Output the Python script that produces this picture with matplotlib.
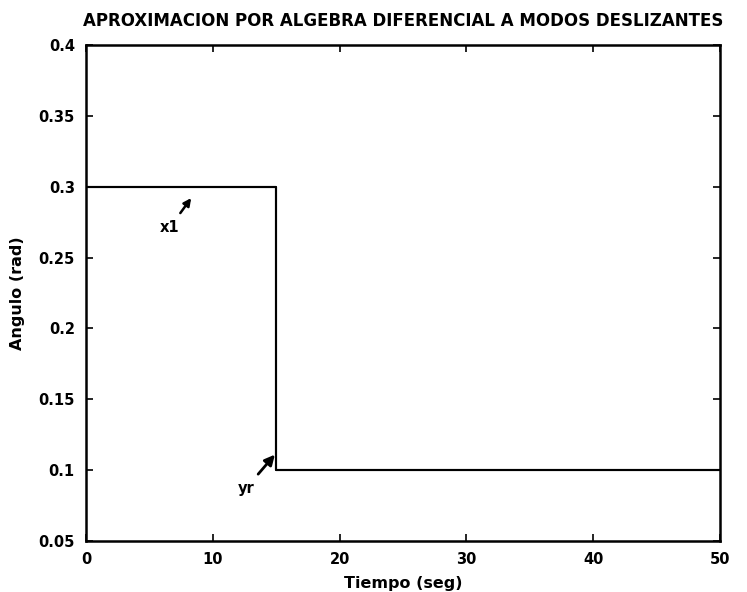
import matplotlib.pyplot as plt

# reference angle and response (overlapping step)
tiempo = [0, 15, 15, 50]
x1 = [0.3, 0.3, 0.1, 0.1]
yr = [0.3, 0.3, 0.1, 0.1]

xticks = [0, 10, 20, 30, 40, 50]
yticks = [0.05, 0.1, 0.15, 0.2, 0.25, 0.3, 0.35, 0.4]
ytick_labels = ["0.05", "0.1", "0.15", "0.2", "0.25", "0.3", "0.35", "0.4"]

plt.rcParams["font.family"] = ["DejaVu Sans"]
plt.rcParams["font.weight"] = "bold"

fig = plt.figure(figsize=(7.47, 5.92), dpi=100)
ax = fig.add_axes([0.115, 0.086, 0.849, 0.838])

ax.plot(tiempo, x1, color="black", linewidth=1.5)
ax.plot(tiempo, yr, color="black", linewidth=1.5)

ax.set_xlim(0, 50)
ax.set_ylim(0.05, 0.4)
ax.set_xticks(xticks)
ax.set_yticks(yticks)
ax.set_yticklabels(ytick_labels)
ax.tick_params(direction="in", top=True, right=True, length=5, width=1.2,
               labelsize=10.5, pad=8)
for s in ax.spines.values():
    s.set_linewidth(1.8)

ax.annotate("x1", xy=(8.3, 0.292), xytext=(6.6, 0.271),
            fontsize=10.5, fontweight="bold", ha="center", va="center",
            arrowprops=dict(arrowstyle="-|>", color="black", lw=1.8,
                            mutation_scale=11, shrinkA=4, shrinkB=0))
ax.annotate("yr", xy=(14.9, 0.111), xytext=(12.6, 0.087),
            fontsize=10.5, fontweight="bold", ha="center", va="center",
            arrowprops=dict(arrowstyle="-|>", color="black", lw=2,
                            mutation_scale=15, shrinkA=4, shrinkB=0))

ax.set_title("APROXIMACION POR ALGEBRA DIFERENCIAL A MODOS DESLIZANTES",
             fontsize=12, fontweight="bold", pad=14)
ax.set_xlabel("Tiempo (seg)", fontsize=11.5, fontweight="bold", labelpad=6)
ax.set_ylabel("Angulo (rad)", fontsize=11.5, fontweight="bold", labelpad=10)

fig.savefig("out.png", dpi=100)
